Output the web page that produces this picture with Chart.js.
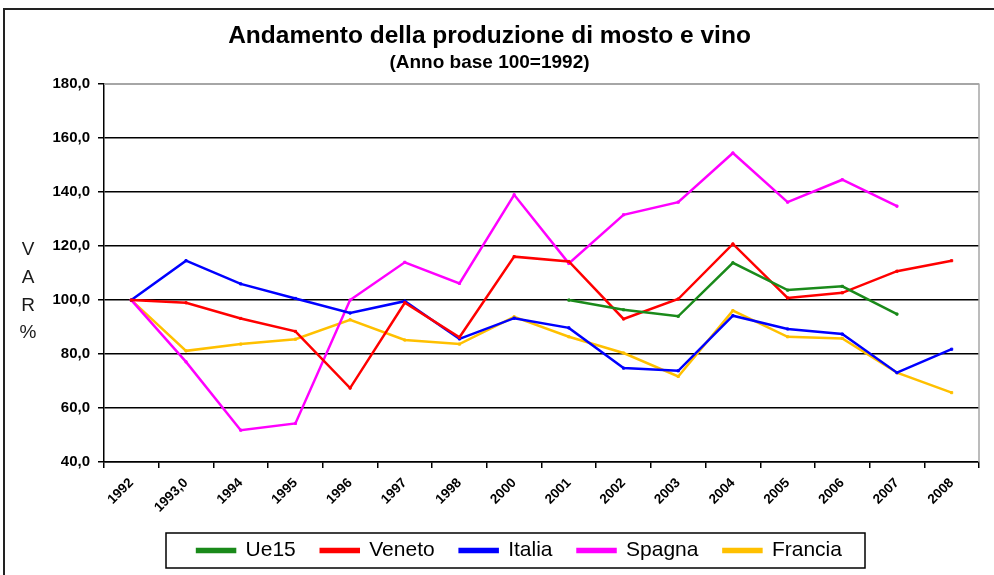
<!DOCTYPE html>
<html>
<head>
<meta charset="utf-8">
<script src="https://cdn.jsdelivr.net/npm/chart.js@4/dist/chart.umd.min.js"></script>
<style>
html,body{margin:0;padding:0;background:#fff;}
#wrap{width:994px;height:575px;position:relative;}
</style>
</head>
<body>
<div id="wrap"><canvas id="c" width="994" height="575"></canvas></div>
<script>
const categories = ["1992","1993,0","1994","1995","1996","1997","1998","2000","2001","2002","2003","2004","2005","2006","2007","2008"];
const ue15    = [null,null,null,null,null,null,null,null,100.0,96.4,94.0,113.8,103.7,105.1,94.8,null];
const veneto  = [100.0,99.0,93.2,88.4,67.4,99.0,86.2,116.1,114.3,93.0,100.4,120.8,100.8,102.7,110.7,114.6];
const italia  = [100.0,114.6,106.0,100.6,95.2,99.6,85.6,93.3,89.7,74.8,73.8,94.2,89.3,87.4,73.1,81.8];
const spagna  = [100.0,77.1,51.8,54.3,100.0,114.0,106.2,139.0,113.6,131.6,136.3,154.5,136.3,144.6,134.8,null];
const francia = [100.0,81.2,83.7,85.5,92.7,85.2,83.7,93.8,86.4,80.4,71.7,96.1,86.4,85.8,73.1,65.7];
const yTicks  = [40,60,80,100,120,140,160,180];
const yTitleLetters = ["V","A","R","%"];

const FONT = "'Liberation Sans', Arial, sans-serif";

function ds(label, data, color){
  return {label, data, borderColor: color, backgroundColor: color,
    borderWidth: 2.5, pointStyle: 'rect', pointRadius: 1.5, pointHoverRadius: 2,
    pointBorderWidth: 1, tension: 0, spanGaps: false};
}

const framePlugin = {
  id: 'frame',
  beforeDraw(chart){
    const c = chart.ctx;
    c.save();
    c.fillStyle = '#fff';
    c.fillRect(0,0,chart.width,chart.height);
    c.restore();
  },
  afterLayout(chart){
    const lg = chart.legend;
    if (lg) { lg.left += 30; lg.right += 30; }
  },
  beforeDatasetsDraw(chart){
    const c = chart.ctx, a = chart.chartArea;
    c.save();
    c.strokeStyle = '#a6a6a6';
    c.lineWidth = 1.5;
    c.beginPath();
    c.moveTo(a.left, a.top); c.lineTo(a.right, a.top); c.lineTo(a.right, a.bottom);
    c.stroke();
    c.restore();
  },
  afterDraw(chart){
    const c = chart.ctx;
    c.save();
    // outer frame
    c.strokeStyle = '#222';
    c.lineWidth = 2;
    c.beginPath();
    c.moveTo(4, chart.height); c.lineTo(4, 9); c.lineTo(chart.width, 9);
    c.stroke();
    // y-axis title
    c.fillStyle = '#1a1a1a';
    c.font = "19px " + FONT;
    c.textAlign = 'center';
    c.textBaseline = 'middle';
    const ys = [250, 278, 306, 333];
    yTitleLetters.forEach((t,i)=> c.fillText(t, 28, ys[i]));
    // legend frame
    c.strokeStyle = '#000';
    c.lineWidth = 1.5;
    c.strokeRect(166, 533, 699, 35);
    c.restore();
  }
};

new Chart(document.getElementById('c'), {
  type: 'line',
  data: {
    labels: categories,
    datasets: [
      ds('Ue15', ue15, '#1a8a1a'),
      ds('Veneto', veneto, '#ff0000'),
      ds('Italia', italia, '#0000ff'),
      ds('Spagna', spagna, '#ff00ff'),
      ds('Francia', francia, '#ffc000')
    ]
  },
  options: {
    responsive: false,
    animation: false,
    devicePixelRatio: 1,
    layout: { padding: { left: 0, right: 15, top: 0, bottom: 4 } },
    plugins: {
      title: { display: true, text: 'Andamento della produzione di mosto e vino',
        color: '#000', font: { family: FONT, size: 24.5, weight: 'bold' },
        padding: { top: 21.5, bottom: 0 } },
      subtitle: { display: true, text: '(Anno base 100=1992)',
        color: '#000', font: { family: FONT, size: 19, weight: 'bold' },
        padding: { top: 0, bottom: 10.5 } },
      legend: { position: 'bottom',
        labels: { color: '#000', font: { family: FONT, size: 21 }, boxWidth: 38, boxHeight: 3, padding: 25 } },
      tooltip: { enabled: false }
    },
    scales: {
      x: {
        offset: true,
        grid: { display: true, drawOnChartArea: false, drawTicks: true, tickLength: 6, offset: true, color: '#000', lineWidth: 1.5 },
        border: { color: '#000', width: 1.5 },
        ticks: { color: '#000', font: { family: FONT, size: 13.5, weight: 'bold' }, maxRotation: 45, minRotation: 45, autoSkip: false, padding: 7 },
        afterFit(s){ s.height = 53; }
      },
      y: {
        min: 40, max: 180,
        afterBuildTicks(s){ s.ticks = yTicks.map(v => ({value: v})); },
        grid: { color: ctx => (ctx.tick && ctx.tick.value === 180) ? '#a6a6a6' : '#000', lineWidth: 1.5, tickLength: 6, tickColor: '#000' },
        border: { color: '#000', width: 1.5 },
        ticks: { color: '#000', font: { family: FONT, size: 15, weight: 'bold' }, padding: 8,
          callback: v => Number(v).toFixed(1).replace('.', ',') },
        afterFit(s){ s.width = 104; }
      }
    }
  },
  plugins: [framePlugin]
});
</script>
</body>
</html>
